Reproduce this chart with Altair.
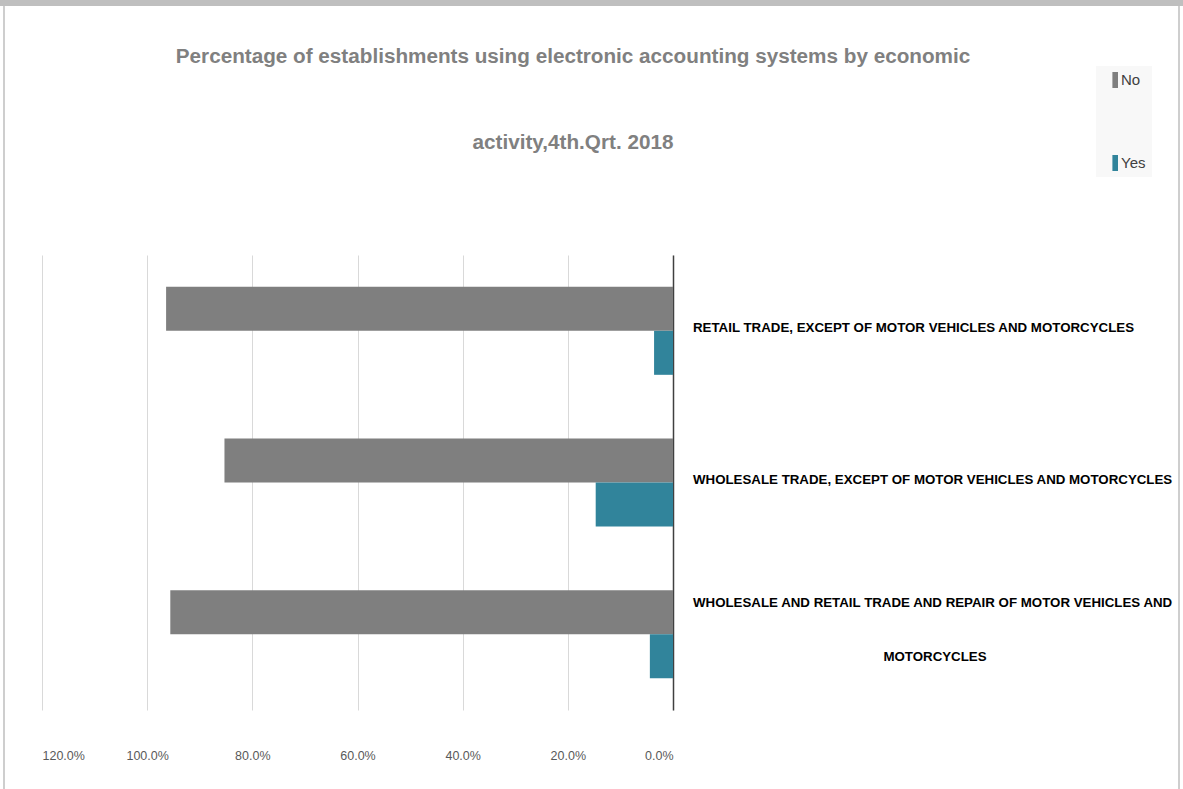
import altair as alt
import pandas as pd

categories = [
    "RETAIL TRADE, EXCEPT OF MOTOR VEHICLES AND MOTORCYCLES",
    "WHOLESALE TRADE, EXCEPT OF MOTOR VEHICLES AND MOTORCYCLES",
    "WHOLESALE AND RETAIL TRADE AND REPAIR OF MOTOR VEHICLES AND MOTORCYCLES",
]
series = ["No", "Yes"]
no_values = [0.964, 0.853, 0.956]
yes_values = [0.036, 0.147, 0.044]
tick_values = [0.0, 0.2, 0.4, 0.6, 0.8, 1.0, 1.2]
title_lines = [
    "Percentage of establishments using electronic accounting systems by economic",
    "activity,4th.Qrt. 2018",
]
colors = ["#7F7F7F", "#31849B"]

rows = []
for c, n, y in zip(categories, no_values, yes_values):
    rows.append({"category": c, "series": "No", "value": n})
    rows.append({"category": c, "series": "Yes", "value": y})
df = pd.DataFrame(rows)

FONT = "Liberation Sans"
W, H = 631, 455

y_scale = alt.Scale(domain=categories, paddingInner=0.42, paddingOuter=0.21)

bars = alt.Chart(df).mark_bar().encode(
    x=alt.X(
        "value:Q",
        scale=alt.Scale(domain=[0, 1.2], reverse=True, nice=False),
        axis=alt.Axis(
            values=tick_values,
            format=".1%",
            domain=False,
            ticks=False,
            grid=True,
            gridColor="#D9D9D9",
            gridWidth=1,
            labelFont=FONT,
            labelFontSize=12.5,
            labelColor="#595959",
            labelPadding=45,
            labelBaseline="middle",
            title=None,
        ),
    ),
    y=alt.Y(
        "category:N",
        scale=y_scale,
        sort=categories,
        axis=alt.Axis(
            orient="right",
            labels=False,
            ticks=False,
            domain=True,
            domainColor="#404040",
            domainWidth=1.5,
            grid=False,
            title=None,
        ),
    ),
    yOffset=alt.YOffset("series:N", sort=series),
    color=alt.Color(
        "series:N",
        sort=series,
        scale=alt.Scale(domain=series, range=colors),
        legend=alt.Legend(
            title=None,
            orient="none",
            legendX=1054,
            legendY=-189,
            symbolType="M0.3,-1L1,-1L1,1L0.3,1Z",
            symbolSize=256,
            symbolStrokeWidth=0,
            labelFont=FONT,
            labelFontSize=15,
            labelColor="#404040",
            labelOffset=3,
            rowPadding=67,
            padding=6,
            fillColor="#F8F8F8",
        ),
    ),
)

lab_df = pd.DataFrame({"category": categories[:2], "text": categories[:2]})
lab1 = alt.Chart(lab_df).mark_text(
    align="left", baseline="middle", font=FONT, fontSize=13.3, fontWeight="bold",
    color="#000000", dy=-3
).encode(
    x=alt.value(W + 20),
    y=alt.Y("category:N", scale=y_scale, sort=categories),
    text="text:N",
)

third_df = pd.DataFrame({
    "category": [categories[2]],
    "line1": ["WHOLESALE AND RETAIL TRADE AND REPAIR OF MOTOR VEHICLES AND"],
    "line2": ["MOTORCYCLES"],
})
lab2 = alt.Chart(third_df).mark_text(
    align="left", baseline="middle", font=FONT, fontSize=13.3, fontWeight="bold",
    color="#000000", dy=-31
).encode(
    x=alt.value(W + 20),
    y=alt.Y("category:N", scale=y_scale, sort=categories),
    text="line1:N",
)
lab3 = alt.Chart(third_df).mark_text(
    align="center", baseline="middle", font=FONT, fontSize=13.3, fontWeight="bold",
    color="#000000", dy=23
).encode(
    x=alt.value(W + 262),
    y=alt.Y("category:N", scale=y_scale, sort=categories),
    text="line2:N",
)

title_df = pd.DataFrame({"line": title_lines, "idx": [0, 1]})
title1 = alt.Chart(title_df.iloc[[0]]).mark_text(
    align="center", baseline="middle", font=FONT, fontSize=20.7, fontWeight="bold",
    color="#808080"
).encode(x=alt.value(531), y=alt.value(-198), text="line:N")
title2 = alt.Chart(title_df.iloc[[1]]).mark_text(
    align="center", baseline="middle", font=FONT, fontSize=20.7, fontWeight="bold",
    color="#808080"
).encode(x=alt.value(531), y=alt.value(-112), text="line:N")

frame = alt.Chart(pd.DataFrame({"a": [0]})).mark_rect(
    fill=None, stroke="#BFBFBF", strokeWidth=1.5
).encode(x=alt.value(-38), x2=alt.value(1137), y=alt.value(-251), y2=alt.value(560))
top_bar = alt.Chart(pd.DataFrame({"a": [0]})).mark_rect(
    fill="#BFBFBF"
).encode(x=alt.value(-42), x2=alt.value(1141), y=alt.value(-255), y2=alt.value(-249))

chart = alt.layer(frame, top_bar, bars, lab1, lab2, lab3, title1, title2).properties(
    width=W,
    height=H,
    autosize=alt.AutoSizeParams(type="none"),
    padding={"left": 42, "top": 255, "right": 510, "bottom": 79},
).configure(background="white").configure_view(stroke=None)

chart.save("out.html", embed_options={"renderer": "svg", "actions": False})
